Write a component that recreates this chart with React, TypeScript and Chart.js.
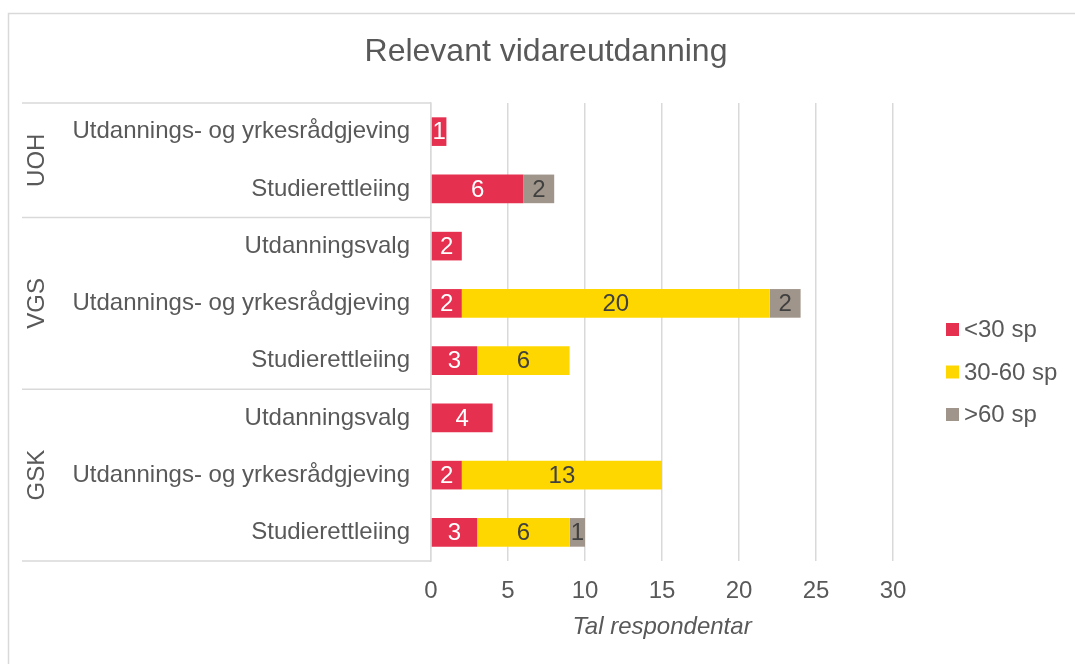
import React, { useEffect, useRef } from "react";
import { Chart, registerables } from "chart.js";

Chart.register(...registerables);

const chartTitle = "Relevant vidareutdanning";
const axisTitle = "Tal respondentar";
const groupNames = ["UOH", "VGS", "GSK"];
const groupSizes = [2, 3, 3];
const categories = [
  "Utdannings- og yrkesrådgjeving",
  "Studierettleiing",
  "Utdanningsvalg",
  "Utdannings- og yrkesrådgjeving",
  "Studierettleiing",
  "Utdanningsvalg",
  "Utdannings- og yrkesrådgjeving",
  "Studierettleiing",
];
const seriesNames = ["<30 sp", "30-60 sp", ">60 sp"];
const under30 = [1, 6, 2, 2, 3, 4, 2, 3];
const from30to60 = [null, null, null, 20, 6, null, 13, 6];
const over60 = [null, 2, null, 2, null, null, null, 1];
const xTicks = [0, 5, 10, 15, 20, 25, 30];

const colors = ["#E5304F", "#FFD700", "#A0958A"];
const labelColors = ["#FFFFFF", "#404040", "#404040"];
const textColor = "#595959";
const lineColor = "#D9D9D9";
const FONT = "'Liberation Sans', Arial, sans-serif";

const decorPlugin = {
  id: "decor",
  beforeDraw(chart: any) {
    const ctx = chart.ctx;
    ctx.save();
    ctx.fillStyle = "#FFFFFF";
    ctx.fillRect(0, 0, chart.width, chart.height);
    ctx.strokeStyle = lineColor;
    ctx.lineWidth = 1.5;
    ctx.strokeRect(8.5, 13.5, chart.width + 20, chart.height + 20);
    // chart title
    ctx.fillStyle = textColor;
    ctx.font = `32px ${FONT}`;
    ctx.textAlign = "center";
    ctx.textBaseline = "middle";
    ctx.fillText(chartTitle, 546, 52);
    ctx.restore();
  },
  afterDraw(chart: any) {
    const ctx = chart.ctx;
    const y = chart.scales.y;
    const area = chart.chartArea;
    const step = (area.bottom - area.top) / categories.length;
    ctx.save();
    // separators
    ctx.strokeStyle = lineColor;
    ctx.lineWidth = 1.5;
    let idx = 0;
    const bounds = [0];
    groupSizes.forEach((s) => {
      idx += s;
      bounds.push(idx);
    });
    bounds.forEach((b) => {
      const py = y.getPixelForValue(b) - step / 2;
      ctx.beginPath();
      ctx.moveTo(22, py);
      ctx.lineTo(area.left, py);
      ctx.stroke();
    });
    // group labels
    ctx.fillStyle = textColor;
    ctx.font = `24px ${FONT}`;
    ctx.textAlign = "center";
    ctx.textBaseline = "middle";
    let start = 0;
    groupNames.forEach((g, i) => {
      const a = y.getPixelForValue(start) - step / 2;
      const b = y.getPixelForValue(start + groupSizes[i] - 1) + step / 2;
      ctx.save();
      ctx.translate(37, (a + b) / 2);
      ctx.rotate(-Math.PI / 2);
      ctx.fillText(g, 0, 0);
      ctx.restore();
      start += groupSizes[i];
    });
    // data labels
    ctx.font = `24px ${FONT}`;
    chart.data.datasets.forEach((ds: any, di: number) => {
      const meta = chart.getDatasetMeta(di);
      meta.data.forEach((el: any, i: number) => {
        const v = ds.data[i];
        if (v === null || v === undefined || v === 0) return;
        const c = el.getCenterPoint();
        ctx.fillStyle = labelColors[di];
        ctx.fillText(String(v), c.x, c.y + 1);
      });
    });
    // legend
    const lx = area.right + 53;
    const lyMid = 372;
    const gap = 42.5;
    ctx.textAlign = "left";
    seriesNames.forEach((n, i) => {
      const cy = lyMid + (i - 1) * gap;
      ctx.fillStyle = colors[i];
      ctx.fillRect(lx, cy - 6.5, 13, 13);
      ctx.fillStyle = textColor;
      ctx.fillText(n, lx + 18, cy + 1);
    });
    ctx.restore();
  },
};

export default function App() {
  const ref = useRef<HTMLCanvasElement>(null);
  useEffect(() => {
    if (!ref.current) return;
    const mk = (data: any[], i: number) => ({
      label: seriesNames[i],
      data,
      backgroundColor: colors[i],
      borderWidth: 0,
      barPercentage: 0.5,
      categoryPercentage: 1,
    });
    const chart = new Chart(ref.current, {
      type: "bar",
      data: {
        labels: categories,
        datasets: [mk(under30, 0), mk(from30to60, 1), mk(over60, 2)],
      },
      plugins: [decorPlugin],
      options: {
        indexAxis: "y",
        animation: false,
        responsive: false,
        layout: { padding: { left: 0, right: 182, top: 103, bottom: 0 } },
        plugins: {
          legend: { display: false },
          tooltip: { enabled: false },
          title: { display: false },
        },
        scales: {
          x: {
            stacked: true,
            min: 0,
            max: 30,
            afterBuildTicks: (s: any) => {
              s.ticks = xTicks.map((v) => ({ value: v }));
            },
            afterFit: (s: any) => {
              s.height = 103;
            },
            grid: { color: lineColor, lineWidth: 1.5, drawTicks: false },
            border: { display: false },
            ticks: {
              color: textColor,
              font: { family: FONT, size: 24 },
              padding: 16,
            },
            title: {
              display: true,
              text: axisTitle,
              color: textColor,
              font: { family: FONT, size: 24, style: "italic" },
              padding: { top: 0, bottom: 22 },
            },
          },
          y: {
            stacked: true,
            afterFit: (s: any) => {
              s.width = 431;
            },
            grid: { display: false, drawTicks: false },
            border: { display: true, color: lineColor, width: 1.5 },
            ticks: {
              color: textColor,
              font: { family: FONT, size: 24 },
              padding: 21,
            },
          },
        },
      },
    } as any);
    return () => chart.destroy();
  }, []);
  return (
    <div style={{ position: "absolute", left: 0, top: 0, width: 1075, height: 664 }}>
      <canvas ref={ref} width={1075} height={664} />
    </div>
  );
}
